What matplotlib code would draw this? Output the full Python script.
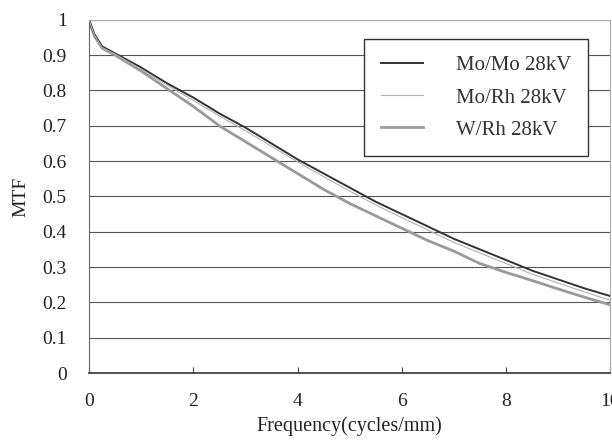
import matplotlib
matplotlib.use('Agg')
import matplotlib.pyplot as plt

plt.rcParams['font.family'] = ['Liberation Serif', 'DejaVu Serif']

# frequency (cycles/mm)
freq = [0, 0.1, 0.25, 0.5, 1, 1.5, 2, 2.5, 3, 3.5, 4, 4.5, 5, 5.5, 6, 6.5, 7, 7.5, 8, 8.5, 9, 9.5, 10]

# MTF values
mtf_momo = [1.0, 0.96, 0.925, 0.905, 0.865, 0.82, 0.78, 0.735, 0.695, 0.65, 0.605, 0.565,
            0.525, 0.485, 0.45, 0.415, 0.38, 0.35, 0.32, 0.29, 0.265, 0.24, 0.218]
mtf_morh = [1.0, 0.958, 0.922, 0.903, 0.86, 0.815, 0.772, 0.728, 0.686, 0.642, 0.598, 0.556,
            0.515, 0.476, 0.44, 0.405, 0.37, 0.34, 0.31, 0.28, 0.255, 0.23, 0.206]
mtf_wrh = [1.0, 0.955, 0.92, 0.9, 0.855, 0.805, 0.755, 0.7, 0.655, 0.61, 0.565, 0.52,
           0.48, 0.445, 0.41, 0.375, 0.345, 0.31, 0.285, 0.262, 0.238, 0.215, 0.193]

labels = ['Mo/Mo 28kV', 'Mo/Rh 28kV', 'W/Rh 28kV']
yticks = [0, 0.1, 0.2, 0.3, 0.4, 0.5, 0.6, 0.7, 0.8, 0.9, 1]
ytick_labels = ['0', '0.1', '0.2', '0.3', '0.4', '0.5', '0.6', '0.7', '0.8', '0.9', '1']
xticks = [0, 2, 4, 6, 8, 10]

fig = plt.figure(figsize=(6.12, 4.4), dpi=100)
ax = fig.add_axes([0.1454, 0.152, 0.852, 0.803])

# horizontal grid lines
for yv in yticks[1:]:
    ax.axhline(yv, color='#555555', lw=0.8, zorder=1)

ax.plot(freq, mtf_momo, color='#333333', lw=1.4, label=labels[0], zorder=3)
ax.plot(freq, mtf_morh, color='#b0b0b0', lw=0.8, label=labels[1], zorder=3)
ax.plot(freq, mtf_wrh, color='#9a9a9a', lw=2.0, label=labels[2], zorder=2)

ax.set_xlim(0, 10)
ax.set_ylim(0, 1)
ax.set_xticks(xticks)
ax.set_xticklabels([str(v) for v in xticks], fontsize=14, color='#222222')
ax.set_yticks(yticks)
ax.set_yticklabels(ytick_labels, fontsize=14, color='#222222')
ax.tick_params(axis='x', direction='in', length=4, color='#444444', pad=14)
ax.tick_params(axis='y', length=0, pad=16)

for side in ['top', 'right']:
    ax.spines[side].set_color('#aaaaaa')
    ax.spines[side].set_linewidth(0.8)
ax.spines['left'].set_color('#666666')
ax.spines['bottom'].set_color('#333333')
ax.spines['bottom'].set_linewidth(1.2)

ax.set_xlabel('Frequency(cycles/mm)', fontsize=14.5, color='#222222', labelpad=5)
ax.set_ylabel('MTF', fontsize=14, color='#222222', labelpad=9)

leg = ax.legend(loc='upper right', bbox_to_anchor=(0.957, 0.945), fontsize=15,
                fancybox=False, framealpha=1, edgecolor='#333333',
                handlelength=2.0, handletextpad=1.6, labelspacing=0.6,
                borderpad=0.8, borderaxespad=0)
leg.get_frame().set_linewidth(1.0)
for t in leg.get_texts():
    t.set_color('#333333')

fig.savefig('out.png', dpi=100)
